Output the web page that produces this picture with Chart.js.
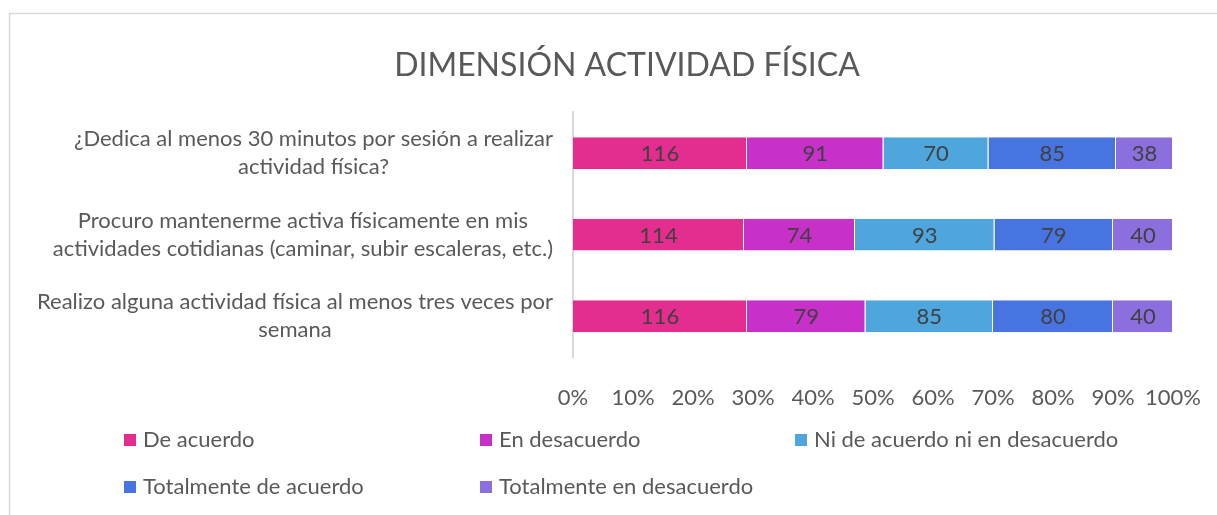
<!DOCTYPE html>
<html>
<head>
<meta charset="utf-8">
<script src="https://cdn.jsdelivr.net/npm/chart.js@4.4.1/dist/chart.umd.min.js"></script>
<style>
  html, body { margin: 0; padding: 0; background: #fff; }
  #contenedor { width: 1217px; height: 515px; }
</style>
</head>
<body>
<div id="contenedor"><canvas id="graficaActividad" width="1217" height="515"></canvas></div>
<script>
// ==========================================
// DATOS
// ==========================================
const preguntas = [
    ['¿Dedica al menos 30 minutos por sesión a realizar', 'actividad física?'],
    ['Procuro mantenerme activa físicamente en mis', 'actividades cotidianas (caminar, subir escaleras, etc.)'],
    ['Realizo alguna actividad física al menos tres veces por', 'semana']
];
const nombresSeries = ['De acuerdo', 'En desacuerdo', 'Ni de acuerdo ni en desacuerdo', 'Totalmente de acuerdo', 'Totalmente en desacuerdo'];
const deAcuerdo = [116, 114, 116];
const enDesacuerdo = [91, 74, 79];
const niAcuerdoNiDesacuerdo = [70, 93, 85];
const totalmenteAcuerdo = [85, 79, 80];
const totalmenteDesacuerdo = [38, 40, 40];
const etiquetasEje = ['0%', '10%', '20%', '30%', '40%', '50%', '60%', '70%', '80%', '90%', '100%'];

const colores = ['#E32D8F', '#C730C9', '#4EA6DC', '#4874E2', '#8C6FDE'];
const fuente = 'Lato, "Open Sans", sans-serif';
const gris = '#595959';
const tamTexto = 22;

// totales por pregunta para el 100% apilado
const conteos = [deAcuerdo, enDesacuerdo, niAcuerdoNiDesacuerdo, totalmenteAcuerdo, totalmenteDesacuerdo];
const totales = preguntas.map((_, i) => conteos.reduce((acc, serie) => acc + serie[i], 0));

const datasets = conteos.map((serie, k) => ({
    label: nombresSeries[k],
    data: serie.map((v, i) => v / totales[i] * 100),
    conteo: serie,
    backgroundColor: colores[k],
    borderColor: 'rgba(255,255,255,0.55)',
    borderWidth: { left: 0, right: 1, top: 0, bottom: 0 },
    borderSkipped: false,
    categoryPercentage: 0.39,
    barPercentage: 1
}));

// ==========================================
// PLUGINS (borde, etiquetas, leyenda)
// ==========================================
const bordeGrafica = {
    id: 'bordeGrafica',
    beforeDraw(chart) {
        const ctx = chart.ctx;
        ctx.save();
        ctx.strokeStyle = '#d9d9d9';
        ctx.lineWidth = 1.5;
        ctx.beginPath();
        ctx.moveTo(9.5, chart.height);
        ctx.lineTo(9.5, 13.5);
        ctx.lineTo(chart.width, 13.5);
        ctx.stroke();
        ctx.restore();
    }
};

const etiquetasValores = {
    id: 'etiquetasValores',
    afterDatasetsDraw(chart) {
        const ctx = chart.ctx;
        ctx.save();
        ctx.font = tamTexto + 'px ' + fuente;
        ctx.fillStyle = '#404040';
        ctx.textAlign = 'center';
        ctx.textBaseline = 'middle';
        chart.data.datasets.forEach((ds, k) => {
            chart.getDatasetMeta(k).data.forEach((barra, i) => {
                const { x, base, y } = barra.getProps(['x', 'base', 'y'], true);
                ctx.fillText(ds.conteo[i], (x + base) / 2, y + 1);
            });
        });
        ctx.restore();
    }
};

const etiquetasPreguntas = {
    id: 'etiquetasPreguntas',
    afterDraw(chart) {
        const escala = chart.scales.y;
        const ctx = chart.ctx;
        const derecha = 553;
        const alto = 28;
        ctx.save();
        ctx.font = tamTexto + 'px ' + fuente;
        ctx.fillStyle = gris;
        ctx.textAlign = 'center';
        ctx.textBaseline = 'middle';
        preguntas.forEach((lineas, i) => {
            const yc = escala.getPixelForTick(i);
            const ancho = Math.max(...lineas.map(l => ctx.measureText(l).width));
            const xc = derecha - ancho / 2;
            lineas.forEach((l, j) => {
                ctx.fillText(l, xc, yc + (j - (lineas.length - 1) / 2) * alto);
            });
        });
        ctx.restore();
    }
};

const leyenda = {
    id: 'leyenda',
    afterDraw(chart) {
        const ctx = chart.ctx;
        const columnas = [124, 480, 795];
        const filas = [440, 487];
        ctx.save();
        ctx.font = tamTexto + 'px ' + fuente;
        ctx.textBaseline = 'middle';
        ctx.textAlign = 'left';
        chart.data.datasets.forEach((ds, k) => {
            const x = columnas[k % 3];
            const y = filas[Math.floor(k / 3)];
            ctx.fillStyle = ds.backgroundColor;
            ctx.fillRect(x, y - 6, 12, 12);
            ctx.fillStyle = gris;
            ctx.fillText(ds.label, x + 19, y);
        });
        ctx.restore();
    }
};

// ==========================================
// GRÁFICA
// ==========================================
const ctx = document.getElementById('graficaActividad').getContext('2d');
const miGrafica = new Chart(ctx, {
    type: 'bar',
    data: { labels: preguntas, datasets: datasets },
    plugins: [bordeGrafica, etiquetasValores, etiquetasPreguntas, leyenda],
    options: {
        indexAxis: 'y',
        responsive: false,
        animation: false,
        layout: { padding: { left: 81, right: 44, top: 0, bottom: 0 } },
        plugins: {
            legend: { display: false },
            tooltip: { enabled: false },
            title: {
                display: true,
                text: 'DIMENSIÓN ACTIVIDAD FÍSICA',
                color: gris,
                font: { family: fuente, size: 32, weight: 'normal' },
                padding: { top: 46, bottom: 28 }
            }
        },
        scales: {
            x: {
                stacked: true,
                min: 0,
                max: 100,
                grid: { display: false },
                border: { display: false },
                ticks: {
                    stepSize: 10,
                    autoSkip: false,
                    minRotation: 0,
                    maxRotation: 0,
                    color: gris,
                    font: { family: fuente, size: tamTexto },
                    padding: 20,
                    callback: (v, i) => etiquetasEje[i]
                },
                afterFit: (escala) => {
                    escala.height = 158;
                    escala.paddingLeft = 0;
                    escala.paddingRight = 0;
                }
            },
            y: {
                stacked: true,
                grid: { display: false },
                border: { display: true, color: '#d9d9d9', width: 2 },
                ticks: { display: false },
                afterFit: (escala) => { escala.width = 492; }
            }
        }
    }
});
</script>
</body>
</html>
